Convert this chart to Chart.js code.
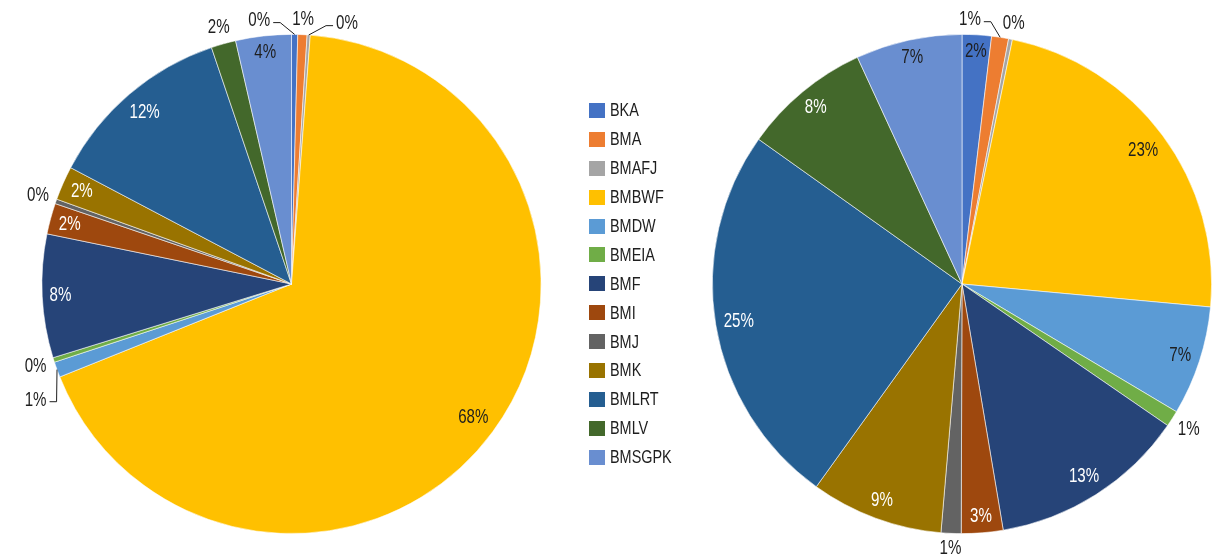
<!DOCTYPE html>
<html>
<head>
<meta charset="utf-8">
<script src="https://cdn.jsdelivr.net/npm/chart.js@4"></script>
<style>
  body { margin: 0; background: #fff; }
  .wrap { position: relative; width: 1212px; height: 560px; overflow: hidden; }
  .wrap canvas { position: absolute; left: 0; top: 0; }
  .legend {
    position: absolute; left: 589px; top: 96px;
    font: 18.5px "Liberation Sans", Arial, sans-serif;
    color: #1e1e1e;
  }
  .legend__row { height: 28.9px; display: flex; align-items: center; }
  .legend__box { width: 16px; height: 15px; margin-right: 5px; }
  /* narrow face: squeeze the regular one */
  .legend__text { display: inline-block; transform: scaleX(0.78); transform-origin: left center; }
</style>
</head>
<body>
<div class="wrap">
  <canvas id="leftPie" width="1212" height="560"></canvas>
  <canvas id="rightPie" width="1212" height="560"></canvas>
  <div class="legend"></div>
</div>
<script>
const categories = ["BKA", "BMA", "BMAFJ", "BMBWF", "BMDW", "BMEIA", "BMF", "BMI", "BMJ", "BMK", "BMLRT", "BMLV", "BMSGPK"];
const leftShares = [0.4, 0.6, 0.2, 67.8, 1.0, 0.3, 8.0, 2.0, 0.3, 2.2, 12.1, 1.6, 3.6];
const rightShares = [1.9, 1.1, 0.25, 23.3, 7.1, 1.05, 12.8, 2.7, 1.3, 8.6, 25.0, 8.3, 6.9];
const colors = ["#4472C4", "#ED7D31", "#A5A5A5", "#FFC000", "#5B9BD5", "#70AD47", "#264478", "#9E480E", "#636363", "#997300", "#255E91", "#43682B", "#698ED0"];
// slices that get white text on them
const darkSlices = ["BMF", "BMI", "BMK", "BMLRT", "BMLV"];

const FONT = '21px "Liberation Sans", Arial, sans-serif';
const SQUEEZE = 0.72;
const TEXT = "#1e1e1e";

function narrow_text(ctx, text, x, y) {
  ctx.save();
  ctx.translate(x, y);
  ctx.scale(SQUEEZE, 1);
  ctx.fillText(text, 0, 0);
  ctx.restore();
}

function outer_dist(l, x, y) {
  const a = Math.atan2(y - l.cy, x - l.cx);
  return l.r + 6 + Math.abs(Math.cos(a)) * l.hw + Math.abs(Math.sin(a)) * l.hh;
}

// labels: inside the edge for big slices, outside with leader lines for tiny ones
const pieLabels = {
  id: "pieLabels",
  afterDatasetsDraw(chart) {
    const ctx = chart.ctx;
    const meta = chart.getDatasetMeta(0);
    const values = chart.data.datasets[0].data;
    const total = values.reduce((a, b) => a + b, 0);
    ctx.save();
    ctx.font = FONT;
    ctx.textAlign = "center";
    ctx.textBaseline = "middle";
    const outside = [];
    meta.data.forEach((arc, i) => {
      const p = arc.getProps(["x", "y", "startAngle", "endAngle", "outerRadius"], true);
      const mid = (p.startAngle + p.endAngle) / 2;
      const ux = Math.cos(mid);
      const uy = Math.sin(mid);
      const pct = (values[i] / total) * 100;
      const text = Math.round(pct) + "%";
      const hw = (ctx.measureText(text).width * SQUEEZE) / 2;
      const hh = 8.5;
      const proj = Math.abs(ux) * hw + Math.abs(uy) * hh;
      if (pct >= 1.75) {
        const d = p.outerRadius - 7 - proj;
        ctx.fillStyle = darkSlices.includes(categories[i]) ? "#fff" : TEXT;
        narrow_text(ctx, text, p.x + ux * d, p.y + uy * d);
      } else {
        const d = p.outerRadius + 6 + proj;
        outside.push({
          text, hw, hh, mid,
          cx: p.x, cy: p.y, r: p.outerRadius,
          sx: p.x + ux * p.outerRadius, sy: p.y + uy * p.outerRadius,
          nx: p.x + ux * d, ny: p.y + uy * d,
        });
      }
    });

    // group neighbours whose labels collide
    const groups = [];
    outside.forEach((l) => {
      const g = groups[groups.length - 1];
      const prev = g && g[g.length - 1];
      if (prev && Math.abs(prev.nx - l.nx) < prev.hw + l.hw + 4 && Math.abs(prev.ny - l.ny) < prev.hh + l.hh + 2) {
        g.push(l);
      } else {
        groups.push([l]);
      }
    });

    // middle label of a group stays, the others step away from it:
    // sideways (riding the circle) near top/bottom, straight up/down near the sides
    groups.forEach((g) => {
      const k = Math.floor(g.length / 2);
      const mid = g[k].mid;
      const tx = -Math.sin(mid);
      const ty = Math.cos(mid);
      const hw = Math.max(...g.map((l) => l.hw));
      g.forEach((l, i) => {
        let x = g[k].nx;
        let y = g[k].ny;
        if (i !== k && Math.abs(tx) >= Math.abs(ty)) {
          x += (i - k) * (2 * hw + 22) * Math.sign(tx);
          const side = Math.sign(g[k].ny - l.cy);
          for (let n = 0; n < 2; n++) {
            const need = outer_dist(l, x, y);
            y = l.cy + side * Math.sqrt(Math.max(need * need - (x - l.cx) ** 2, 0));
          }
        } else if (i !== k) {
          y += (i - k) * (2 * l.hh + 17) * Math.sign(ty);
          const need = outer_dist(l, x, y);
          const dist = Math.hypot(x - l.cx, y - l.cy);
          if (dist < need) {
            const a = Math.atan2(y - l.cy, x - l.cx);
            x = l.cx + Math.cos(a) * need;
            y = l.cy + Math.sin(a) * need;
          }
        }
        l.x = x;
        l.y = y;
      });
    });

    ctx.strokeStyle = TEXT;
    ctx.lineWidth = 1;
    outside.forEach((l) => {
      if (Math.hypot(l.x - l.nx, l.y - l.ny) > 6) {
        const side = l.x < l.sx ? 1 : -1;
        const ex = l.x + side * (l.hw + 3);
        const ey = l.y + 2;
        const bx = ex + side * Math.min(7, Math.abs(l.sx - ex));
        ctx.beginPath();
        ctx.moveTo(l.sx, l.sy);
        ctx.lineTo(bx, ey);
        ctx.lineTo(ex, ey);
        ctx.stroke();
      }
      ctx.fillStyle = TEXT;
      narrow_text(ctx, l.text, l.x, l.y);
    });
    ctx.restore();
  },
};

function create_pie(id, shares, padding) {
  return new Chart(document.getElementById(id), {
    type: "pie",
    data: {
      labels: categories,
      datasets: [{
        data: shares,
        backgroundColor: colors,
        borderColor: "rgba(255,255,255,0.7)",
        borderWidth: 0.8,
      }],
    },
    options: {
      responsive: false,
      devicePixelRatio: 1,
      animation: false,
      events: [],
      layout: { padding },
      plugins: {
        legend: { display: false },
        tooltip: { enabled: false },
      },
    },
    plugins: [pieLabels],
  });
}

function create_legend() {
  const legend = document.querySelector(".legend");
  categories.forEach((name, i) => {
    const row = document.createElement("div");
    row.classList.add("legend__row");
    const box = document.createElement("div");
    box.classList.add("legend__box");
    box.style.background = colors[i];
    const label = document.createElement("span");
    label.classList.add("legend__text");
    label.innerText = name;
    row.appendChild(box);
    row.appendChild(label);
    legend.appendChild(row);
  });
}

create_pie("leftPie", leftShares, { left: 41.5, right: 670.5, top: 34, bottom: 26 });
create_pie("rightPie", rightShares, { left: 712, right: 0, top: 34, bottom: 26 });
create_legend();
</script>
</body>
</html>
